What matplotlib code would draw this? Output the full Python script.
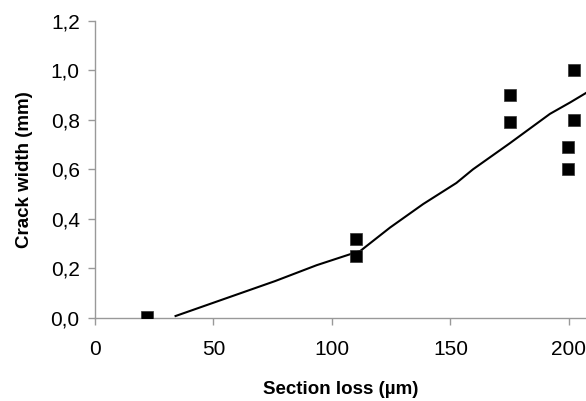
import matplotlib
matplotlib.use("Agg")
import matplotlib.pyplot as plt
from matplotlib.ticker import FuncFormatter

# Measured data (squares)
meas_x = [22, 110, 110, 175, 175, 202, 202, 199.5, 199.5]
meas_y = [0.005, 0.32, 0.25, 0.90, 0.79, 1.00, 0.80, 0.69, 0.60]

# Model curve
model_x = [34, 76, 93.5, 112, 124.5, 138.5, 152.5, 159.5, 175, 192, 200.5, 207.5]
model_y = [0.008, 0.149, 0.213, 0.271, 0.365, 0.46, 0.545, 0.60, 0.705, 0.824, 0.87, 0.91]

x_ticks = [0, 50, 100, 150, 200]
y_ticks = [0.0, 0.2, 0.4, 0.6, 0.8, 1.0, 1.2]

plt.rcParams['font.family'] = ['Liberation Sans', 'DejaVu Sans']

fig = plt.figure(figsize=(5.86, 4.01), dpi=100)
ax = fig.add_axes([95/586, 83/401, (586-95)/586, (318-20.7)/401])

ax.plot(model_x, model_y, color='black', lw=1.5, zorder=2)
ax.plot(meas_x, meas_y, linestyle='none', marker='s', markersize=9,
        color='black', markeredgecolor='#333333', markeredgewidth=0.5, zorder=3)

ax.set_xlim(0, 207.2)
ax.set_ylim(0, 1.2)
ax.set_xticks(x_ticks)
ax.set_yticks(y_ticks)
ax.yaxis.set_major_formatter(FuncFormatter(lambda v, p: f"{v:.1f}".replace('.', ',')))
ax.xaxis.set_major_formatter(FuncFormatter(lambda v, p: f"{int(v)}"))

for s in ['top', 'right']:
    ax.spines[s].set_visible(False)
for s in ['left', 'bottom']:
    ax.spines[s].set_color('#999999')
    ax.spines[s].set_linewidth(1.0)
ax.tick_params(axis='both', direction='out', length=5, width=1.0, color='#999999',
               labelsize=15, labelcolor='black')
ax.tick_params(axis='y', pad=6)
ax.tick_params(axis='x', pad=11)

ax.set_xlabel('Section loss (µm)', fontsize=13.5, fontweight='bold', labelpad=16)
ax.set_ylabel('Crack width (mm)', fontsize=13.5, fontweight='bold', labelpad=13)

fig.savefig('out.png', dpi=100)
